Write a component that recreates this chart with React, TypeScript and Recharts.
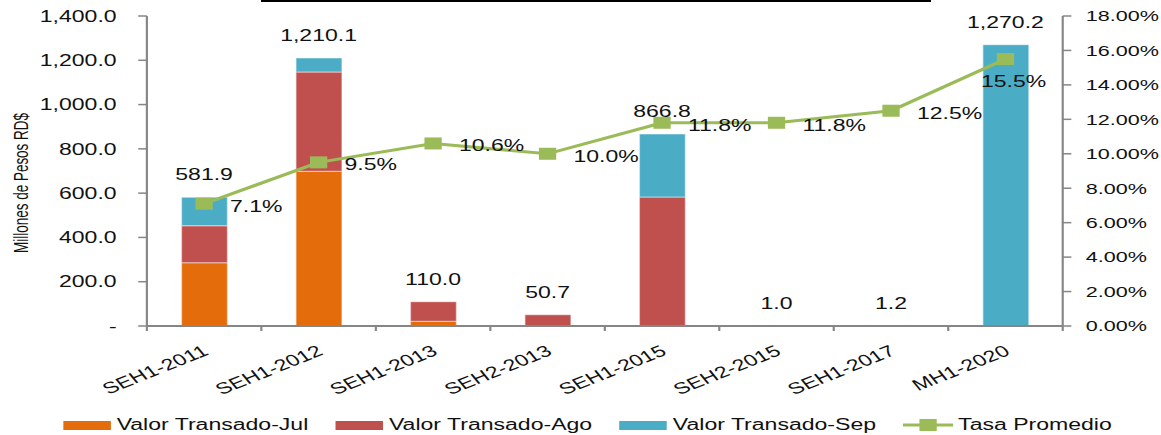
import React from "react";
import { Bar, ComposedChart, Label, LabelList, Legend, Line, XAxis, YAxis } from "recharts";

const categories = [
  "SEH1-2011",
  "SEH1-2012",
  "SEH1-2013",
  "SEH2-2013",
  "SEH1-2015",
  "SEH2-2015",
  "SEH1-2017",
  "MH1-2020"
];
const valorJul = [286, 699, 21, 0, 0, 0, 0, 0];
const valorAgo = [167, 448, 89, 50.7, 583, 1.0, 0, 0];
const valorSep = [128.9, 63.1, 0, 0, 283.8, 0, 1.2, 1270.2];
const tasaPromedio = [7.1, 9.5, 10.6, 10.0, 11.8, 11.8, 12.5, 15.5];
const leftTicks = [0, 200, 400, 600, 800, 1000, 1200, 1400];
const rightTicks = [0, 2, 4, 6, 8, 10, 12, 14, 16, 18];

const data = categories.map((name, i) => ({
  name,
  jul: valorJul[i],
  ago: valorAgo[i],
  sep: valorSep[i],
  total: Math.round((valorJul[i] + valorAgo[i] + valorSep[i]) * 10) / 10,
  tasa: tasaPromedio[i]
}));

// picture is horizontally stretched, so draw narrow and scale
const STRETCH = 1.44;
const W = 806;
const H = 435;
const LEFT_AXIS_W = 102;
const RIGHT_AXIS_W = 68;
const PLOT_TOP = 16;
const PLOT_BOTTOM = 326;
const LEGEND_H = 20;
const PLOT_RIGHT = W - RIGHT_AXIS_W;
const BAND = (PLOT_RIGHT - LEFT_AXIS_W) / categories.length;

const FONT = "'Liberation Sans', Arial, sans-serif";
const TEXT = "#111";
const JUL = "#E46C0A";
const AGO = "#C0504D";
const SEP = "#4BACC6";
const GREEN = "#9BBB59";
const AXIS = "#868686";

const fmt1 = (v: number) =>
  v.toLocaleString("en-US", { minimumFractionDigits: 1, maximumFractionDigits: 1 });

const XTick = (props: any) => {
  const { x, y, payload, index } = props;
  const half = BAND / 2;
  const last = index === categories.length - 1;
  return (
    <g>
      <line x1={x - half} y1={y} x2={x - half} y2={y + 5} stroke={AXIS} strokeWidth={1.5} />
      {last && <line x1={x + half} y1={y} x2={x + half} y2={y + 5} stroke={AXIS} strokeWidth={1.5} />}
      <text
        x={x + 4}
        y={y + 28}
        transform={`rotate(-30 ${x + 4} ${y + 28})`}
        textAnchor="end"
        fontSize={16}
        fontFamily={FONT}
        fill={TEXT}
      >
        {payload.value}
      </text>
    </g>
  );
};

const YTitle = (props: any) => {
  const { x, y, height } = props.viewBox;
  const cx = x + 15;
  const cy = y + height / 2 + 12;
  return (
    <text
      x={cx}
      y={cy}
      transform={`rotate(-90 ${cx} ${cy})`}
      textAnchor="middle"
      dominantBaseline="central"
      fontSize={13.5}
      fontFamily={FONT}
      fill={TEXT}
    >
      Millones de Pesos RD$
    </text>
  );
};

const SquareDot = (props: any) => {
  const { cx, cy } = props;
  if (cx == null || cy == null) return null;
  return <rect x={cx - 6} y={cy - 6} width={12} height={12} fill={GREEN} />;
};

const TotalLabel = (props: any) => {
  const { x, y, value } = props;
  return (
    <text x={x} y={y - 17} textAnchor="middle" fontSize={16} fontFamily={FONT} fill={TEXT}>
      {fmt1(value)}
    </text>
  );
};

const RateLabel = (props: any) => {
  const { x, y, value } = props;
  const below = x + 18 + 45 > PLOT_RIGHT;
  return (
    <text
      x={below ? x - 17 : x + 18}
      y={below ? y + 28 : y + 8}
      textAnchor="start"
      fontSize={16}
      fontFamily={FONT}
      fill={TEXT}
    >
      {value.toFixed(1)}%
    </text>
  );
};

const legendItems = [
  { name: "Valor Transado-Jul", color: JUL, kind: "bar" },
  { name: "Valor Transado-Ago", color: AGO, kind: "bar" },
  { name: "Valor Transado-Sep", color: SEP, kind: "bar" },
  { name: "Tasa Promedio", color: GREEN, kind: "line" }
];

const LegendContent = () => (
  <div
    style={{
      display: "flex",
      alignItems: "center",
      height: LEGEND_H,
      fontSize: 16,
      fontFamily: FONT,
      color: TEXT,
      whiteSpace: "nowrap"
    }}
  >
    {legendItems.map((item) => (
      <div key={item.name} style={{ display: "flex", alignItems: "center", marginRight: 19 }}>
        {item.kind === "bar" ? (
          <span style={{ display: "inline-block", width: 33, height: 9, background: item.color, marginRight: 4 }} />
        ) : (
          <svg width={35} height={14} style={{ marginRight: 3 }}>
            <line x1={0} y1={7} x2={35} y2={7} stroke={item.color} strokeWidth={3} />
            <rect x={11.5} y={1} width={12} height={12} fill={item.color} />
          </svg>
        )}
        <span>{item.name}</span>
      </div>
    ))}
  </div>
);

export default function App() {
  return (
    <div style={{ position: "absolute", left: 0, top: 0, width: 1161, height: 435, overflow: "hidden", background: "#fff" }}>
      <div style={{ position: "absolute", left: 261, top: 0, width: 670, height: 2, background: "#000" }} />
      <div style={{ width: W, height: H, transform: `scaleX(${STRETCH})`, transformOrigin: "0 0" }}>
        <ComposedChart
          width={W}
          height={H}
          data={data}
          margin={{ top: PLOT_TOP, right: 0, bottom: 0, left: 0 }}
          barSize={32}
          style={{ fontFamily: FONT }}
        >
          <XAxis
            dataKey="name"
            height={H - PLOT_BOTTOM - LEGEND_H}
            tickLine={false}
            tickSize={0}
            tickMargin={0}
            interval={0}
            axisLine={{ stroke: AXIS, strokeWidth: 2 }}
            tick={<XTick />}
          />
          <YAxis
            yAxisId="left"
            width={LEFT_AXIS_W}
            domain={[0, 1400]}
            ticks={leftTicks}
            interval={0}
            tickFormatter={(v) => (Number(v) === 0 ? "-" : fmt1(Number(v)))}
            tick={{ fontSize: 16, fill: TEXT, fontFamily: FONT }}
            tickSize={6}
            tickMargin={15}
            axisLine={{ stroke: AXIS, strokeWidth: 1.5 }}
            tickLine={{ stroke: AXIS, strokeWidth: 1.5 }}
          >
            <Label content={<YTitle />} />
          </YAxis>
          <YAxis
            yAxisId="right"
            orientation="right"
            width={RIGHT_AXIS_W}
            domain={[0, 18]}
            ticks={rightTicks}
            interval={0}
            tickFormatter={(v) => `${Number(v).toFixed(2)}%`}
            tick={{ fontSize: 15, fill: TEXT, fontFamily: FONT }}
            tickSize={6}
            tickMargin={10}
            axisLine={{ stroke: AXIS, strokeWidth: 1.5 }}
            tickLine={{ stroke: AXIS, strokeWidth: 1.5 }}
          />
          <Legend
            verticalAlign="bottom"
            align="left"
            content={<LegendContent />}
            wrapperStyle={{ left: 44, bottom: 0, width: 760, height: LEGEND_H }}
          />
          <Bar yAxisId="left" dataKey="jul" name="Valor Transado-Jul" stackId="v" fill={JUL} stroke="#fff" strokeOpacity={0.5} strokeWidth={1} isAnimationActive={false} />
          <Bar yAxisId="left" dataKey="ago" name="Valor Transado-Ago" stackId="v" fill={AGO} stroke="#fff" strokeOpacity={0.5} strokeWidth={1} isAnimationActive={false} />
          <Bar yAxisId="left" dataKey="sep" name="Valor Transado-Sep" stackId="v" fill={SEP} stroke="#fff" strokeOpacity={0.5} strokeWidth={1} isAnimationActive={false} />
          <Line
            yAxisId="left"
            dataKey="total"
            stroke="none"
            dot={false}
            activeDot={false}
            legendType="none"
            isAnimationActive={false}
          >
            <LabelList dataKey="total" content={<TotalLabel />} />
          </Line>
          <Line
            yAxisId="right"
            dataKey="tasa"
            name="Tasa Promedio"
            stroke={GREEN}
            strokeWidth={3}
            dot={<SquareDot />}
            activeDot={false}
            isAnimationActive={false}
          >
            <LabelList dataKey="tasa" content={<RateLabel />} />
          </Line>
        </ComposedChart>
      </div>
    </div>
  );
}
